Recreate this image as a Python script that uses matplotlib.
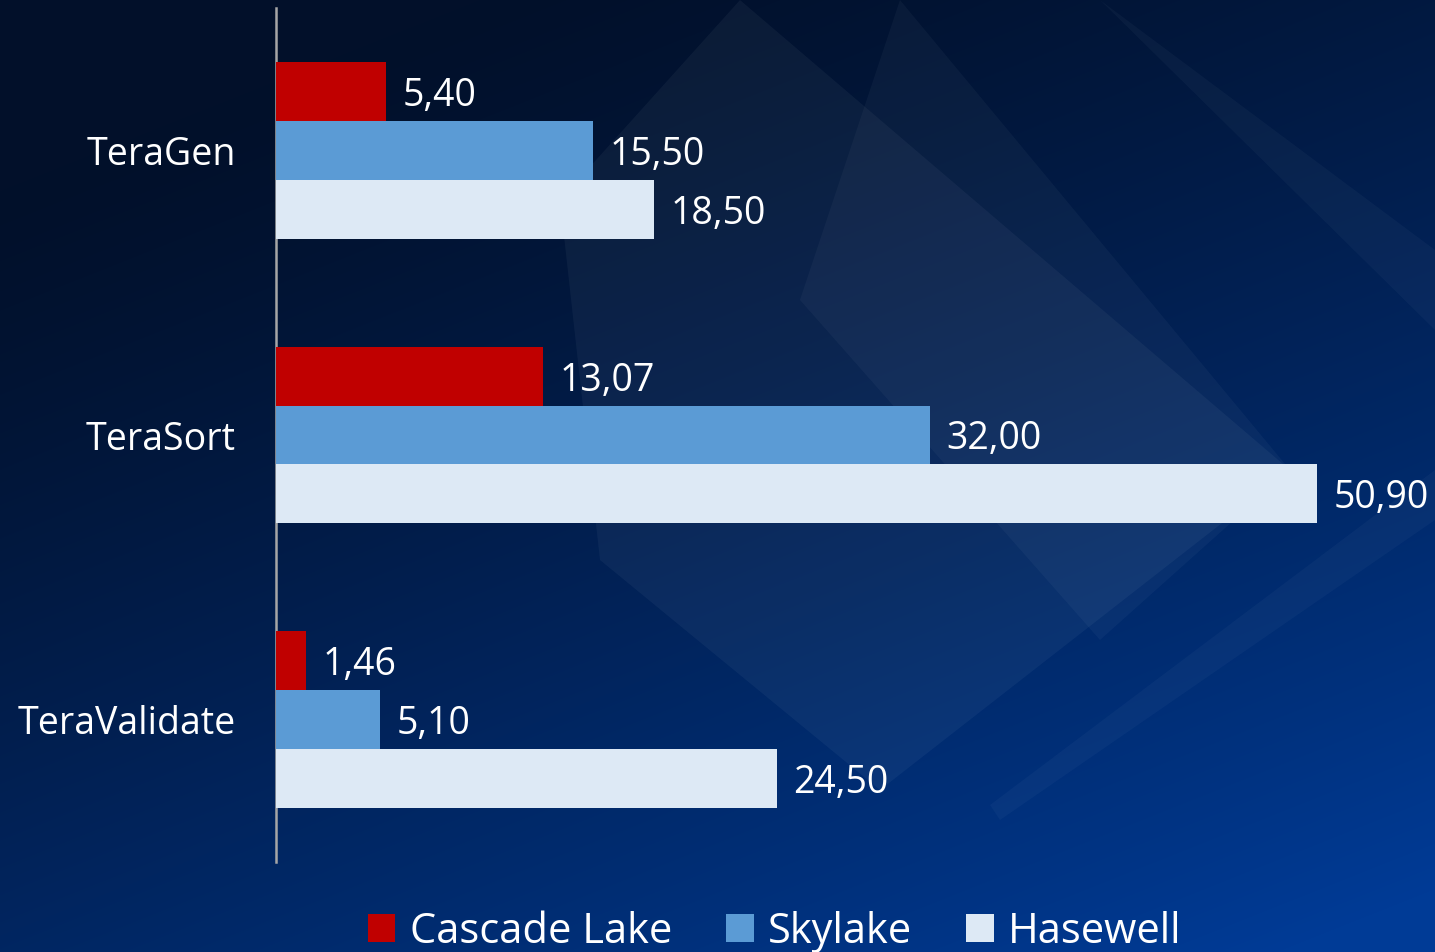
import numpy as np
import matplotlib.pyplot as plt
from matplotlib.patches import Polygon, Patch

# dati
categorie = ["TeraGen", "TeraSort", "TeraValidate"]
serie = ["Cascade Lake", "Skylake", "Hasewell"]
cascade_lake = [5.40, 13.07, 1.46]
skylake = [15.50, 32.00, 5.10]
hasewell = [18.50, 50.90, 24.50]
colori = ["#C00000", "#5B9BD5", "#DDE9F5"]

plt.rcParams['font.family'] = ['Open Sans', 'DejaVu Sans']

W, H = 1435, 952
fig = plt.figure(figsize=(W / 100, H / 100), dpi=100)

# sfondo: gradiente blu scuro -> blu
bg = fig.add_axes([0, 0, 1, 1])
bg.set_xlim(0, W)
bg.set_ylim(H, 0)
bg.axis('off')
yy, xx = np.mgrid[0:H, 0:W]
t = np.clip((xx / W) * 0.45 + (yy / H) * 0.75 - 0.15, 0, 1) ** 1.3
c0 = np.array([0x02, 0x10, 0x2A]) / 255
c1 = np.array([0x00, 0x3B, 0x96]) / 255
img = c0[None, None, :] * (1 - t[..., None]) + c1[None, None, :] * t[..., None]
bg.imshow(img, extent=(0, W, H, 0), aspect='auto', zorder=0)

# raggi di luce decorativi (fascio che converge a destra)
for pts, a in [
    ([(740, 0), (1290, 470), (880, 790), (600, 560), (560, 200)], 0.045),
    ([(900, 0), (1290, 470), (1100, 640), (800, 300)], 0.035),
    ([(1100, 0), (1435, 250), (1435, 330)], 0.03),
    ([(1435, 470), (1435, 520), (1000, 820), (990, 805)], 0.03),
]:
    bg.add_patch(Polygon(pts, closed=True, facecolor='white', alpha=a,
                         edgecolor='none', zorder=1))

# grafico
ax = fig.add_axes([276 / W, 1 - 862 / H, (W - 276) / W, 854 / H])
ax.patch.set_alpha(0)
y = np.arange(len(categorie))
h = 0.207
for i, (vals, col) in enumerate(zip([cascade_lake, skylake, hasewell], colori)):
    pos = y + (i - 1) * h
    ax.barh(pos, vals, height=h, color=col, zorder=3)
    for p, v in zip(pos, vals):
        ax.text(v + 0.8, p, f"{v:.2f}".replace('.', ','), color='white',
                fontsize=27, va='center_baseline', ha='left')

ax.set_xlim(0, (W - 276) / 20.45)
ax.set_ylim(2.5, -0.5)
ax.set_yticks(y)
ax.set_yticklabels(categorie, fontsize=27, color='white')
ax.tick_params(axis='y', length=0, pad=29)
ax.set_xticks([])
for s in ['top', 'right', 'bottom']:
    ax.spines[s].set_visible(False)
ax.spines['left'].set_color('#A6A6A6')
ax.spines['left'].set_linewidth(1.8)

handles = [Patch(facecolor=c, edgecolor='none') for c in colori]
fig.legend(handles, serie, loc='center', bbox_to_anchor=(775 / W, 1 - 932 / H),
           ncol=3, frameon=False, fontsize=30, labelcolor='white',
           handlelength=0.65, handleheight=0.65, handletextpad=0.35,
           columnspacing=1.3)

fig.savefig('out.png', dpi=100)
